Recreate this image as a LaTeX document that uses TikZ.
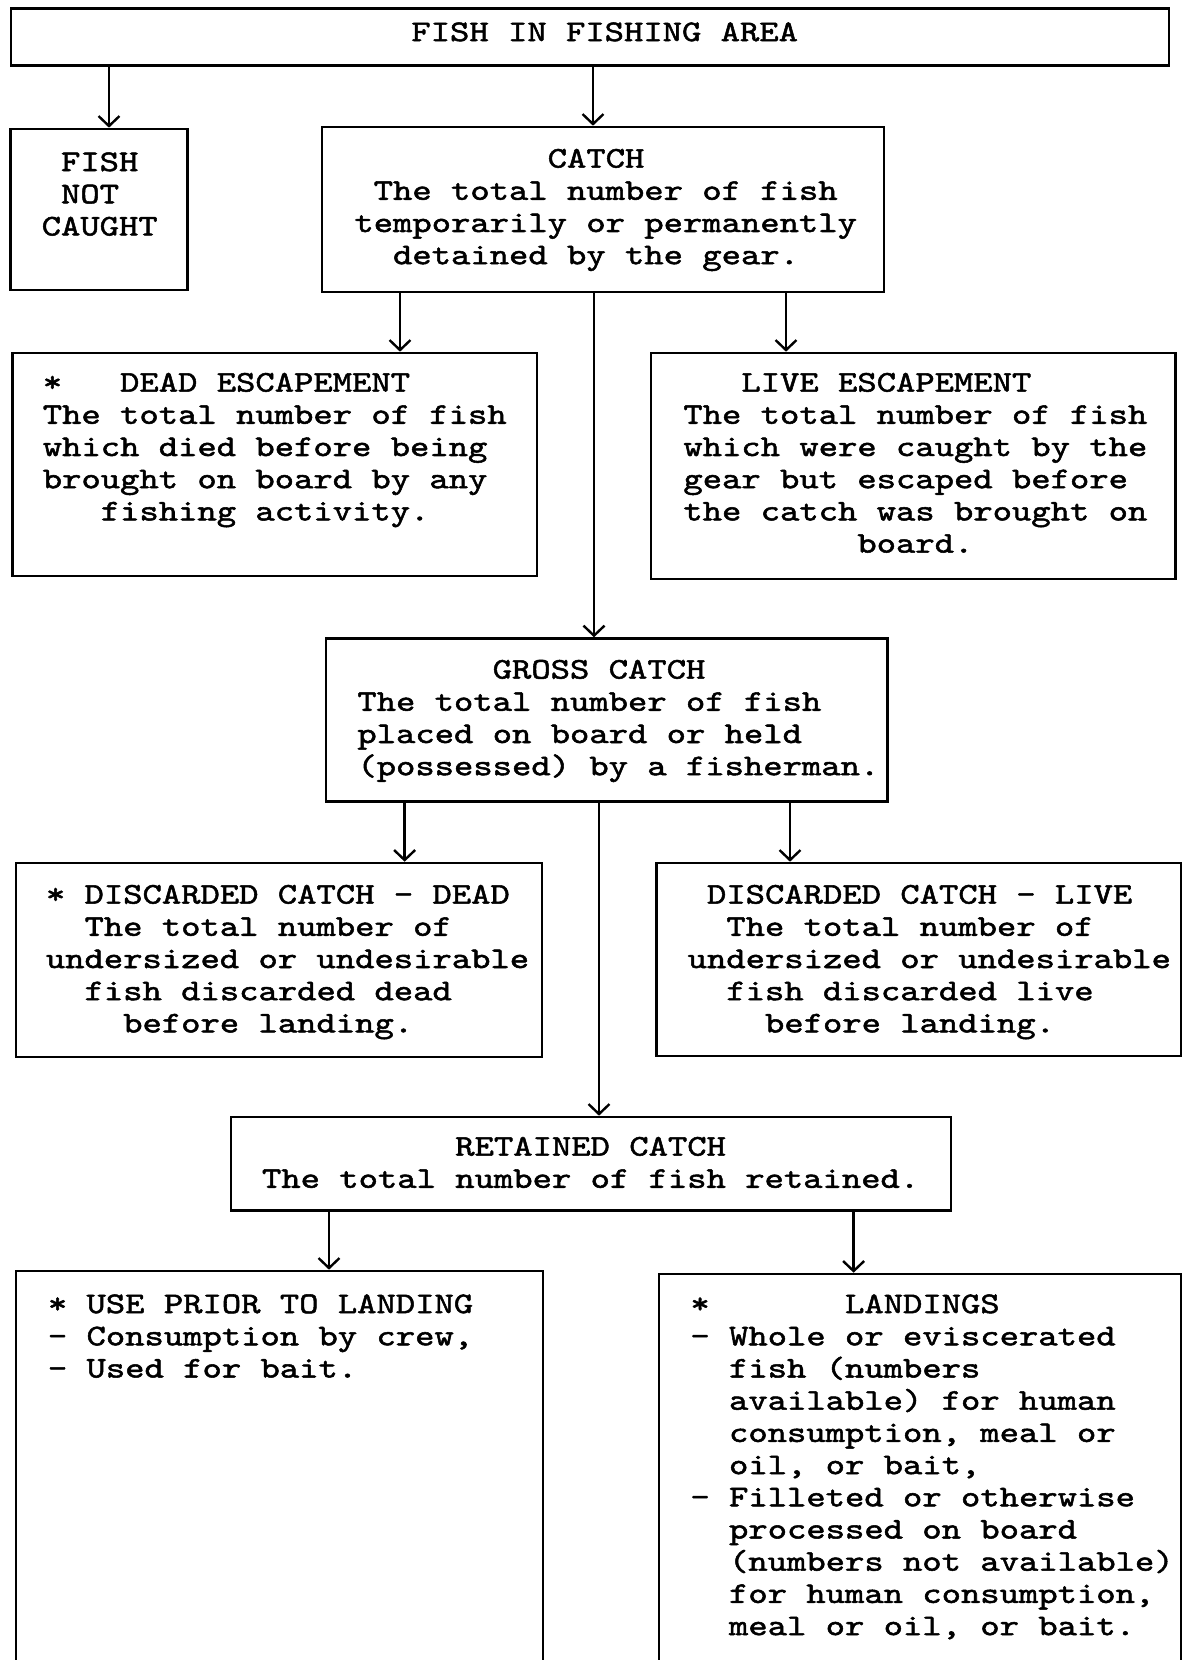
\documentclass[tikz,border=0pt]{standalone}
\usepackage{fontspec}
\setmainfont{lmmono10-regular.otf}[FakeStretch=1.2273, FakeBold=1.7]
\usetikzlibrary{arrows.meta, positioning, fit}

\tikzset{
  box/.style={draw, line width=1.3pt, inner sep=0pt},
  txt/.style={anchor=north west, inner sep=0pt, align=left, font=\fontsize{15}{16.1}\selectfont},
  arr/.style={line width=1.2pt, -{Straight Barb[length=5pt, width=10.5pt]}}
}

\begin{document}
\frenchspacing
\begin{tikzpicture}[x=0.5pt, y=-0.5pt]
  \useasboundingbox (0,0) rectangle (1183,1660);
  % boxes
  \node[box, fit={(11,8.5) (1169,65.7)}] (area) {};
  \node[box, fit={(10.6,129) (187.5,290)}] (notcaught) {};
  \node[box, fit={(322,127) (884,292)}] (catch) {};
  \node[box, fit={(12.7,353) (537,576)}] (deadesc) {};
  \node[box, fit={(651,353) (1175.6,579)}] (liveesc) {};
  \node[box, fit={(326,638.6) (887.5,801.7)}] (gross) {};
  \node[box, fit={(15.9,863) (542,1057)}] (discdead) {};
  \node[box, fit={(656.6,863) (1181,1056)}] (disclive) {};
  \node[box, fit={(231,1117) (951,1210.5)}] (retained) {};
  \node[box, fit={(15.9,1271) (543,1720)}] (useprior) {};
  \node[box, fit={(659,1274) (1181,1720)}] (landings) {};
  % texts
  \node[txt] (area-t) at (411,22) {FISH IN FISHING AREA};
  \node[txt] (notcaught-t) at (41.3,152) {~FISH\\~NOT\\CAUGHT};
  \node[txt] (catch-t) at (354,148.5) {~~~~~~~~~~CATCH\\~The total number of fish\\temporarily or permanently\\~~detained by the gear.};
  \node[txt] (deadesc-t) at (42.4,372.5) {*~~~DEAD ESCAPEMENT\\The total number of fish\\which died before being\\brought on board by any\\~~~fishing activity.};
  \node[txt] (liveesc-t) at (683,372.5) {~~~LIVE ESCAPEMENT\\The total number of fish\\which were caught by the\\gear but escaped before\\the catch was brought on\\~~~~~~~~~board.};
  \node[txt] (gross-t) at (357,659.5) {~~~~~~~GROSS CATCH\\The total number of fish\\placed on board or held\\(possessed) by a fisherman.};
  \node[txt] (discdead-t) at (45.5,884.5) {* DISCARDED CATCH - DEAD\\~~The total number of\\undersized or undesirable\\~~fish discarded dead\\~~~~before landing.};
  \node[txt] (disclive-t) at (687.3,884.5) {~DISCARDED CATCH - LIVE\\~~The total number of\\undersized or undesirable\\~~fish discarded live\\~~~~before landing.};
  \node[txt] (retained-t) at (261.6,1136.5) {~~~~~~~~~~RETAINED CATCH\\The total number of fish retained.};
  \node[txt] (useprior-t) at (47.5,1294) {* USE PRIOR TO LANDING\\- Consumption by crew,\\- Used for bait.};
  \node[txt] (landings-t) at (690,1294) {*~~~~~~~LANDINGS\\- Whole or eviscerated\\~~fish (numbers\\~~available) for human\\~~consumption, meal or\\~~oil, or bait,\\- Filleted or otherwise\\~~processed on board\\~~(numbers not available)\\~~for human consumption,\\~~meal or oil, or bait.};
  % connectors
  \draw[arr] (109,0 |- area.south) -- (109,0 |- notcaught.north);
  \draw[arr] (593,0 |- area.south) -- (593,0 |- catch.north);
  \draw[arr] (400,0 |- catch.south) -- (400,0 |- deadesc.north);
  \draw[arr] (786,0 |- catch.south) -- (786,0 |- liveesc.north);
  \draw[arr] (594,0 |- catch.south) -- (594,0 |- gross.north);
  \draw[arr] (404.6,0 |- gross.south) -- (404.6,0 |- discdead.north);
  \draw[arr] (790,0 |- gross.south) -- (790,0 |- disclive.north);
  \draw[arr] (599,0 |- gross.south) -- (599,0 |- retained.north);
  \draw[arr] (329,0 |- retained.south) -- (329,0 |- useprior.north);
  \draw[arr] (853.6,0 |- retained.south) -- (853.6,0 |- landings.north);
\end{tikzpicture}
\end{document}
